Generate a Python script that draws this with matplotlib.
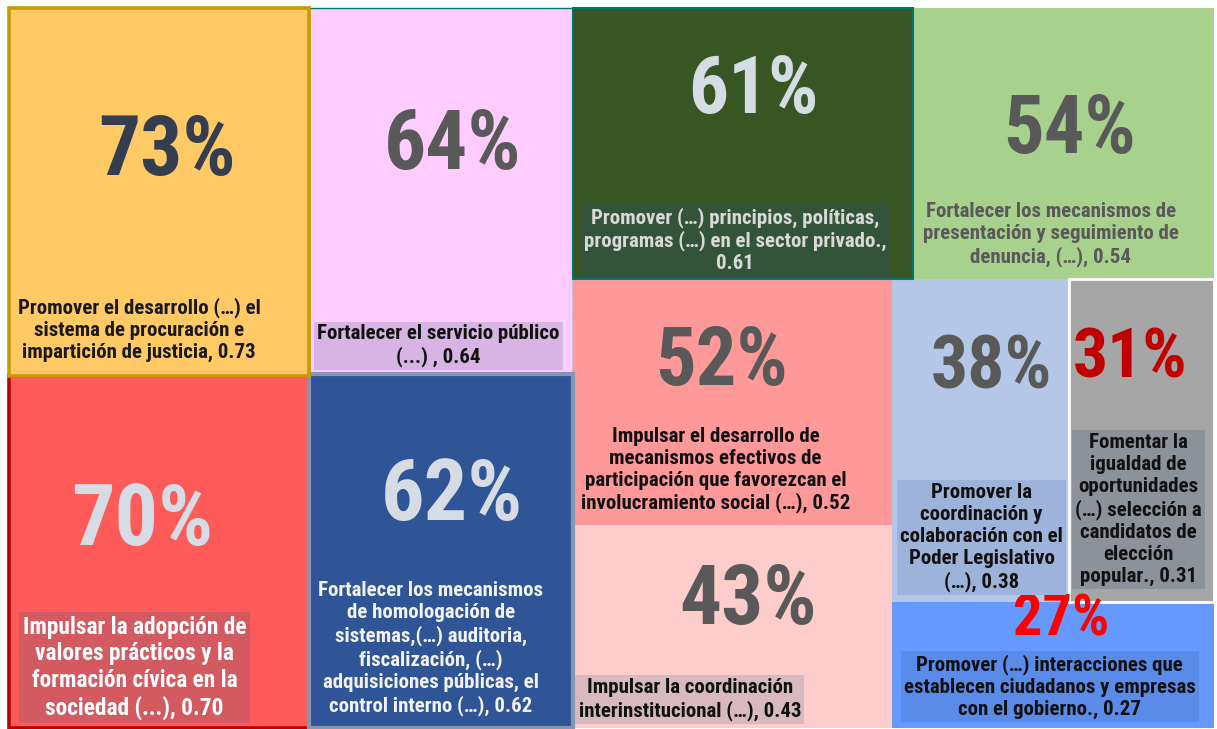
import matplotlib
matplotlib.use("Agg")
import matplotlib.pyplot as plt
from matplotlib.patches import Rectangle

# ---------------- data ----------------
values = [0.73, 0.70, 0.64, 0.62, 0.61, 0.54, 0.52, 0.43, 0.38, 0.31, 0.27]
pct_labels = ["73%", "70%", "64%", "62%", "61%", "54%", "52%", "43%", "38%", "31%", "27%"]
categories = [
    "Promover el desarrollo (…) el\nsistema de procuración e\nimpartición de justicia",
    "Impulsar la adopción de\nvalores prácticos y la\nformación cívica en la\nsociedad (...)",
    "Fortalecer el servicio público\n(...) ",
    "Fortalecer los mecanismos\nde homologación de\nsistemas,(…) auditoria,\nfiscalización, (…)\nadquisiciones públicas, el\ncontrol interno (…)",
    "Promover (…) principios, políticas,\nprogramas (…) en el sector privado.",
    "Fortalecer los mecanismos de\npresentación y seguimiento de\ndenuncia, (…)",
    "Impulsar el desarrollo de\nmecanismos efectivos de\nparticipación que favorezcan el\ninvolucramiento social (…)",
    "Impulsar la coordinación\ninterinstitucional (…)",
    "Promover la\ncoordinación y\ncolaboración con el\nPoder Legislativo\n(…)",
    "Fomentar la\nigualdad de\noportunidades\n(…) selección a\ncandidatos de\nelección\npopular.",
    "Promover (…) interacciones que\nestablecen ciudadanos y empresas\ncon el gobierno.",
]
# separator between category and value (line break for 0.61)
value_sep = [", ", ", ", ", ", ", ", ",\n", ", ", ", ", ", ", ", ", ", ", ", "]

# ---------------- styles ----------------
fills = ["#FFC965", "#FF5B5B", "#FFCCFF", "#2F5597", "#375623", "#A9D18E",
         "#FF9999", "#FFCCCC", "#B4C7E7", "#A6A6A6", "#6699FF"]
edges = ["#C99A00", "#C00000", "#00766B", "#8497B0", "#00766B", "none",
         "none", "none", "none", "white", "none"]
edge_w = [2.6, 2.6, 1.0, 3.0, 1.5, 0, 0, 0, 0, 2.0, 0]
num_colors = ["#333F50", "#D6DCE4", "#595959", "#D6DCE4", "#D6DCE4", "#595959",
              "#595959", "#595959", "#595959", "#C00000", "#FF0000"]
num_sizes = [60, 62, 60, 62, 57, 58, 58, 60, 53, 50, 42]
lab_colors = ["#1A1A1A", "#FFFFFF", "#111111", "#F2F2F2", "#D9D9D9", "#595959",
              "#111111", "#111111", "#111111", "#111111", "#111111"]
lab_boxes = [None, "#D45A62", "#D8B4E4", None, "#33543A", None,
             None, "#D9B9C0", "#9DB3D9", "#8C9299", "#5A8BE8"]
lab_sizes = [15, 16.8, 15, 15, 15, 15, 15, 15, 15, 15, 15]
# text anchor positions as fractions of each tile (x from left, y from top)
num_pos = [(0.526, 0.393), (0.443, 0.414), (0.547, 0.378), (0.541, 0.347),
           (0.531, 0.307), (0.520, 0.456), (0.467, 0.343), (0.55, 0.38),
           (0.562, 0.278), (0.42, 0.248), (0.526, 0.145)]
lab_pos = [(0.434, 0.875), (0.419, 0.829), (0.492, 0.923), (0.463, 0.776),
           (0.478, 0.858), (0.458, 0.838), (0.448, 0.778), (0.367, 0.859),
           (0.506, 0.801), (0.476, 0.715), (0.49, 0.672)]

FONT = ["Roboto Condensed", "Liberation Sans", "DejaVu Sans"]
plt.rcParams["font.family"] = FONT

W, H = 1217, 729
REGION = (9, 8, 1205, 720)


def layout(vals, x, y, w, h, group=2):
    rects = []
    i = 0
    while i < len(vals):
        grp = vals[i:i + group]
        rem = sum(vals[i:])
        s = sum(grp)
        if w >= h:
            sw = w * s / rem
            yy = y
            for v in grp:
                hh = h * v / s
                rects.append((x, yy, sw, hh))
                yy += hh
            x += sw
            w -= sw
        else:
            sh = h * s / rem
            xx = x
            for v in grp:
                ww = w * v / s
                rects.append((xx, y, ww, sh))
                xx += ww
            y += sh
            h -= sh
        i += group
    return rects


fig = plt.figure(figsize=(W / 100, H / 100), dpi=100)
ax = fig.add_axes([0, 0, 1, 1])
ax.set_xlim(0, W)
ax.set_ylim(H, 0)
ax.axis("off")

rects = layout(values, *REGION)
z_order = [5, 4, 2, 4, 3, 1, 2, 1, 1, 2, 1]
for i, (x, y, w, h) in enumerate(rects):
    ax.add_patch(Rectangle((x, y), w, h, facecolor=fills[i], edgecolor=edges[i],
                           linewidth=edge_w[i], zorder=z_order[i]))

for i, (x, y, w, h) in enumerate(rects):
    nx, ny = num_pos[i]
    ax.text(x + nx * w, y + ny * h, pct_labels[i], ha="center", va="center",
            fontsize=num_sizes[i], fontweight="bold", color=num_colors[i], zorder=10)
    lx, ly = lab_pos[i]
    txt = f"{categories[i]}{value_sep[i]}{values[i]:.2f}"
    bb = None
    if lab_boxes[i]:
        bb = dict(boxstyle="square,pad=0.15", facecolor=lab_boxes[i], edgecolor="none")
    ax.text(x + lx * w, y + ly * h, txt, ha="center", va="center", multialignment="center",
            fontsize=lab_sizes[i], fontweight="bold", color=lab_colors[i],
            linespacing=1.2, bbox=bb, zorder=11)

fig.savefig("out.png", dpi=100)
